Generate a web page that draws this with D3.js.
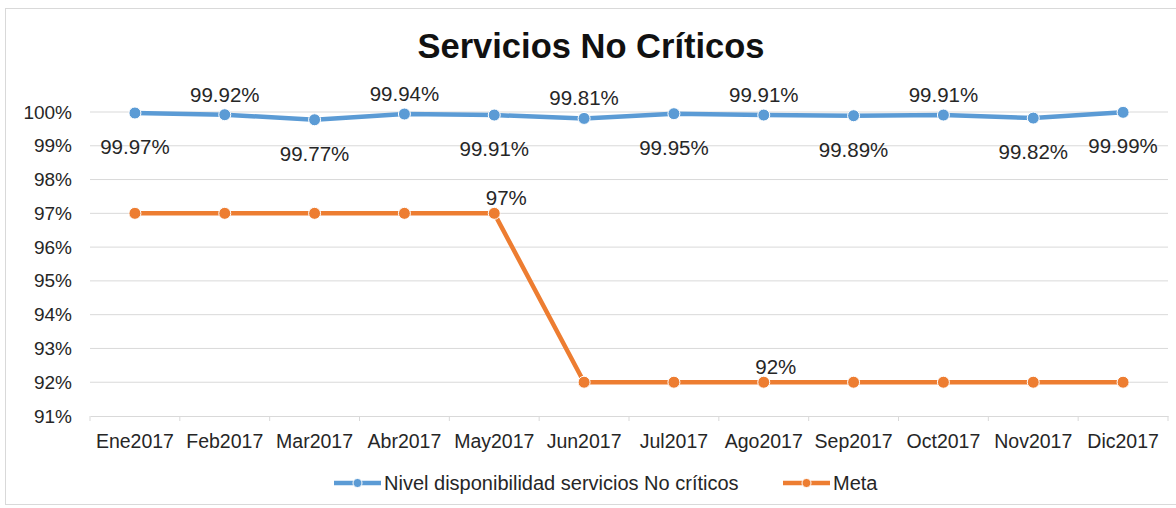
<!DOCTYPE html>
<html lang="es"><head>
<meta charset="utf-8">
<title>Servicios No Críticos</title>
<script src="https://cdn.jsdelivr.net/npm/d3@7"></script>
<style>
  body { margin: 0; background: #fff; }
  text { font-family: "Liberation Sans", Arial, sans-serif; fill: #262626; }
</style>
</head>
<body>
<script type="text/javascript">

var width = 1176;
var height = 508;

// data
var months = ["Ene2017", "Feb2017", "Mar2017", "Abr2017", "May2017", "Jun2017",
              "Jul2017", "Ago2017", "Sep2017", "Oct2017", "Nov2017", "Dic2017"];
var nivel = [99.97, 99.92, 99.77, 99.94, 99.91, 99.81, 99.95, 99.91, 99.89, 99.91, 99.82, 99.99];
var meta = [97, 97, 97, 97, 97, 92, 92, 92, 92, 92, 92, 92];
var yTicks = [91, 92, 93, 94, 95, 96, 97, 98, 99, 100];
// where each label of the blue series sits: above or below the point
var nivelLabelPos = ["below", "above", "below", "above", "below", "above",
                     "below", "above", "below", "above", "below", "below"];
// only these points of the goal series carry a label
var metaLabelIdx = [4, 7];

var blue = "#5b9bd5";
var orange = "#ed7d31";

var svg = d3.select("body").append("svg")
            .attr("width", width)
            .attr("height", height);

// chart frame
svg.append("rect")
    .attr("x", 5.5).attr("y", 8.5)
    .attr("width", 1190).attr("height", 496)
    .attr("fill", "#fff")
    .attr("stroke", "#d9d9d9");

var x = d3.scaleBand()
    .domain(months)
    .range([90, 1168]);

var y = d3.scaleLinear()
    .domain([91, 100])
    .range([416, 112]);

// title
svg.append("text")
    .attr("x", 591).attr("y", 58)
    .attr("text-anchor", "middle")
    .style("font-size", "34.5px")
    .style("font-weight", "bold")
    .style("fill", "#111")
    .text("Servicios No Críticos");

// gridlines
svg.append("g")
    .selectAll("line")
    .data(yTicks.filter((d) => d > 91))
    .enter()
    .append("line")
    .attr("x1", 90).attr("x2", 1168)
    .attr("y1", (d) => y(d)).attr("y2", (d) => y(d))
    .attr("stroke", "#d9d9d9")
    .attr("stroke-width", 1);

// y axis labels
var yAxis = d3.axisLeft(y)
    .tickValues(yTicks)
    .tickSize(0)
    .tickPadding(18)
    .tickFormat((d) => d + "%");
var gy = svg.append("g")
    .attr("transform", "translate(90,0)")
    .call(yAxis);
gy.select(".domain").remove();
gy.selectAll("text")
    .style("font-size", "19px")
    .style("font-family", "\"Liberation Sans\", Arial, sans-serif")
    .style("fill", "#262626");

// x axis
var xAxis = d3.axisBottom(x).tickSize(0).tickPadding(18);
var gx = svg.append("g")
    .attr("transform", "translate(0," + y(91) + ")")
    .call(xAxis);
gx.select(".domain").attr("stroke", "#d9d9d9");
gx.selectAll("text")
    .style("font-size", "19.5px")
    .style("font-family", "\"Liberation Sans\", Arial, sans-serif")
    .style("fill", "#262626");

// tick marks between categories
svg.append("g")
    .selectAll("line")
    .data(months.concat(["end"]))
    .enter()
    .append("line")
    .attr("x1", (d, i) => 90 + i * x.bandwidth())
    .attr("x2", (d, i) => 90 + i * x.bandwidth())
    .attr("y1", y(91)).attr("y2", y(91) + 5)
    .attr("stroke", "#d9d9d9");

var cx = (d, i) => x(months[i]) + x.bandwidth() / 2;

var line = d3.line()
    .x((d, i) => cx(d, i))
    .y((d) => y(d));

function drawSeries(data, color) {
    svg.append("path")
        .datum(data)
        .attr("d", line)
        .attr("fill", "none")
        .attr("stroke", color)
        .attr("stroke-width", 4.5)
        .attr("stroke-linejoin", "round");
    svg.append("g")
        .selectAll("circle")
        .data(data)
        .enter()
        .append("circle")
        .attr("cx", cx)
        .attr("cy", (d) => y(d))
        .attr("r", 6)
        .attr("fill", color)
        .attr("stroke", "#fff")
        .attr("stroke-width", 1);
}

drawSeries(nivel, blue);
drawSeries(meta, orange);

// data labels
svg.append("g")
    .selectAll("text")
    .data(nivel)
    .enter()
    .append("text")
    .attr("x", cx)
    .attr("y", (d, i) => nivelLabelPos[i] == "above" ? y(d) - 13 : y(d) + 41)
    .attr("text-anchor", "middle")
    .style("font-size", "20.5px")
    .text((d) => d.toFixed(2) + "%");

svg.append("g")
    .selectAll("text")
    .data(metaLabelIdx)
    .enter()
    .append("text")
    .attr("x", (i) => cx(meta[i], i) + 12)
    .attr("y", (i) => y(meta[i]) - 8)
    .attr("text-anchor", "middle")
    .style("font-size", "20.5px")
    .text((i) => meta[i] + "%");

// legend
var legendItems = [
    {name: "Nivel disponibilidad servicios No críticos", color: blue, x: 334},
    {name: "Meta", color: orange, x: 783}
];
var legend = svg.append("g")
    .selectAll("g")
    .data(legendItems)
    .enter()
    .append("g")
    .attr("transform", (d) => "translate(" + d.x + ",483)");
legend.append("line")
    .attr("x1", 0).attr("x2", 47)
    .attr("y1", 0).attr("y2", 0)
    .attr("stroke", (d) => d.color)
    .attr("stroke-width", 4.5);
legend.append("circle")
    .attr("cx", 23.5).attr("cy", 0).attr("r", 4.5)
    .attr("fill", (d) => d.color)
    .attr("stroke", "#fff");
legend.append("text")
    .attr("x", 50).attr("y", 7)
    .style("font-size", "20px")
    .text((d) => d.name);

</script>
</body></html>
